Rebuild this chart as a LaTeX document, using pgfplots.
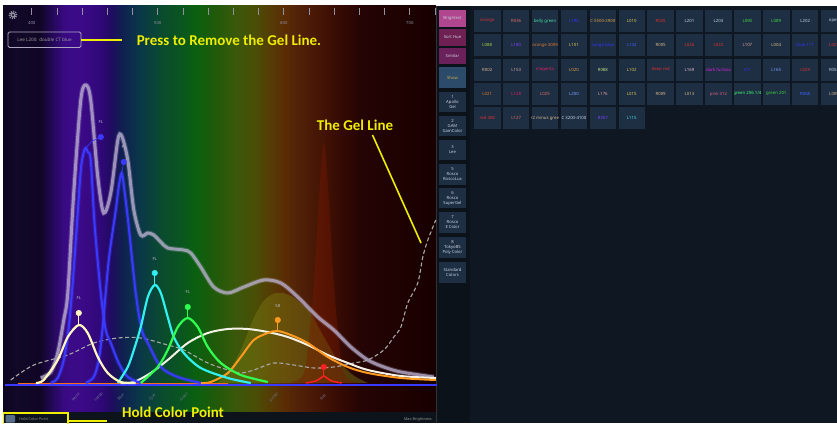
\documentclass[border=0pt]{standalone}
\usepackage{pgfplots}
\pgfplotsset{compat=1.18}
\usepackage{fontspec}
\setmainfont{Noto Sans}
\newfontfamily\annfont{Carlito}
\definecolor{s0}{HTML}{0C0620}\definecolor{s1}{HTML}{120828}\definecolor{s2}{HTML}{100525}
\definecolor{s3}{HTML}{200850}\definecolor{s4}{HTML}{3A0A85}\definecolor{s5}{HTML}{3C0A88}
\definecolor{s6}{HTML}{30087A}\definecolor{s7}{HTML}{220A62}\definecolor{s8}{HTML}{0F2050}
\definecolor{s9}{HTML}{0A3848}\definecolor{s10}{HTML}{0A4A30}\definecolor{s11}{HTML}{0A5520}
\definecolor{s12}{HTML}{0A6010}\definecolor{s13}{HTML}{205A0A}\definecolor{s14}{HTML}{3A580A}
\definecolor{s15}{HTML}{4A4E06}\definecolor{s16}{HTML}{553C05}\definecolor{s17}{HTML}{5A2C05}
\definecolor{s18}{HTML}{502008}\definecolor{s19}{HTML}{451505}\definecolor{s20}{HTML}{350A04}
\definecolor{s21}{HTML}{250404}\definecolor{s22}{HTML}{200202}\definecolor{s23}{HTML}{180000}
\pgfdeclarehorizontalshading{spectrum}{100bp}{color(0bp)=(s0); color(25bp)=(s0); color(26.39bp)=(s1);
color(29.27bp)=(s2); color(30.43bp)=(s3); color(32.16bp)=(s4); color(33.89bp)=(s5); color(36.2bp)=(s6);
color(37.36bp)=(s7); color(38.74bp)=(s8); color(40.82bp)=(s9); color(43.13bp)=(s10); color(45.44bp)=(s11);
color(47.17bp)=(s12); color(49.48bp)=(s13); color(51.79bp)=(s14); color(54.1bp)=(s15); color(55.83bp)=(s16);
color(57.56bp)=(s17); color(59.29bp)=(s18); color(61.6bp)=(s19); color(63.91bp)=(s20); color(66.22bp)=(s21);
color(69.69bp)=(s22); color(75bp)=(s23); color(100bp)=(s23)}
% UI colours
\definecolor{btn}{HTML}{1E2F44}\definecolor{rpanel}{HTML}{0F1822}\definecolor{lcol}{HTML}{0B121A}
\definecolor{botbar}{HTML}{0C131B}\definecolor{brightest}{HTML}{B0468E}\definecolor{sorthue}{HTML}{6E2052}
\definecolor{similar}{HTML}{6A2058}\definecolor{showb}{HTML}{2C4A6A}\definecolor{showt}{HTML}{C8B040}
\definecolor{btxt}{HTML}{C8D0DC}\definecolor{ann}{HTML}{EEEE00}
\definecolor{cRed}{HTML}{E03030}\definecolor{cSalmon}{HTML}{E07060}\definecolor{cTeal}{HTML}{40E0A0}
\definecolor{cBlue}{HTML}{3434FF}\definecolor{cBlueB}{HTML}{3C64FF}\definecolor{cAmber}{HTML}{E0A040}
\definecolor{cYellow}{HTML}{D8C850}\definecolor{cLight}{HTML}{C8D0E0}\definecolor{cGreen}{HTML}{40D840}
\definecolor{cYG}{HTML}{B0D040}\definecolor{cViolet}{HTML}{8040FF}\definecolor{cOrange}{HTML}{E07828}
\definecolor{cKhaki}{HTML}{D8B888}\definecolor{cRose}{HTML}{E0A0A0}\definecolor{cMag}{HTML}{E02060}
\definecolor{cYG2}{HTML}{C0E080}\definecolor{cFuch}{HTML}{E020E0}\definecolor{cLBlue}{HTML}{80A0FF}
\definecolor{cPink}{HTML}{E06080}\definecolor{cGreenB}{HTML}{40FF70}\definecolor{cCyan}{HTML}{40E0E0}
\definecolor{cPinkL}{HTML}{E0C0D0}
% curve colours
\definecolor{envc}{HTML}{BAB0D0}\definecolor{bluec}{HTML}{3A3AFF}\definecolor{cyanc}{HTML}{30F0F0}
\definecolor{greenc}{HTML}{30FF50}\definecolor{creamc}{HTML}{FFF6C0}\definecolor{whitec}{HTML}{F4F2E6}
\definecolor{orangec}{HTML}{FF9A20}\definecolor{redc}{HTML}{FF2020}\definecolor{gelc}{HTML}{A8A8A8}
\definecolor{olivec}{HTML}{7A7A12}\definecolor{spikec}{HTML}{7A1800}\definecolor{lblc}{HTML}{B8B8C8}
\definecolor{catc}{HTML}{7A7A98}\definecolor{tickc}{HTML}{9090A0}
\newcommand\cellfont{\fontsize{4.3}{5}\selectfont}
\newcommand\tinyfont{\fontsize{4.2}{5}\selectfont}
\newcommand\catfont{\fontsize{3.6}{4}\selectfont}
\newcommand\cell[4]{%
 \pgfmathsetmacro\cx{474+(#1-1)*28.9}%
 \pgfmathsetmacro\cy{413-(#2-1)*24.3}%
 \fill[btn] (\cx,\cy) rectangle ++(26.5,-22);
 \begin{scope}\clip (\cx,\cy) rectangle ++(26.5,-22);
 \node[text=#3,font=\cellfont,inner sep=0pt] at (\cx+13.25,\cy-11) {#4};\end{scope}}
\newcommand\lbtn[5]{% top py, height, fill, text colour, text
 \fill[#3] (439,423-#1) rectangle (466,423-#1-#2);
 \node[text=#4,font=\tinyfont,align=center,inner sep=0pt] at (452.5,423-#1-#2/2) {#5};}
\begin{document}
\begin{tikzpicture}[x=1pt,y=1pt]
\clip (0,0) rectangle (837,423);
\fill[white] (0,0) rectangle (837,423);
% left panel background
\shade[shading=spectrum] (3,11) rectangle (436,417);
\fill[botbar] (3,0) rectangle (436,11);
% right panel
\fill[rpanel] (436,0) rectangle (837,417);
\fill[lcol] (436,0) rectangle (470,417);
\fill[black!80] (435.5,0) rectangle (437,417);
\lbtn{10}{17}{brightest}{btxt}{Brightest}
\lbtn{29}{17}{sorthue}{btxt}{Sort Hue}
\lbtn{48}{16}{similar}{btxt}{Similar}
\lbtn{67}{21}{showb}{showt}{Show}
\lbtn{92}{20}{btn}{btxt}{1\\Apollo\\Gel}
\lbtn{116}{20}{btn}{btxt}{2\\GAM\\GamColor}
\lbtn{140}{20}{btn}{btxt}{3\\Lee}
\lbtn{164}{21}{btn}{btxt}{5\\Rosco\\RoscoLux}
\lbtn{188}{20}{btn}{btxt}{6\\Rosco\\SuperGel}
\lbtn{212}{21}{btn}{btxt}{7\\Rosco\\E Color}
\lbtn{237}{21}{btn}{btxt}{8\\TokyoBS\\Poly Color}
\lbtn{262}{21}{btn}{btxt}{Standard\\Colors}
% gel grid
\cell{1}{1}{cRed}{orange}\cell{2}{1}{cSalmon}{R036}\cell{3}{1}{cTeal}{belly green}\cell{4}{1}{cBlue}{L195}
\cell{5}{1}{cAmber}{C 5500-2900}\cell{6}{1}{cYellow}{L010}\cell{7}{1}{cRed}{R025}\cell{8}{1}{cLight}{L201}
\cell{9}{1}{cLight}{L203}\cell{10}{1}{cGreen}{L090}\cell{11}{1}{cGreen}{L089}\cell{12}{1}{cLight}{L202}
\cell{13}{1}{cLight}{open}
\cell{1}{2}{cYG}{L088}\cell{2}{2}{cViolet}{L180}\cell{3}{2}{cOrange}{orange 3009}\cell{4}{2}{cYellow}{L101}
\cell{5}{2}{cBlue}{congo blue}\cell{6}{2}{cBlueB}{L132}\cell{7}{2}{cKhaki}{R005}\cell{8}{2}{cRed}{L026}
\cell{9}{2}{cRed}{L022}\cell{10}{2}{cRose}{L107}\cell{11}{2}{cKhaki}{L004}\cell{12}{2}{cBlue}{blue 111}
\cell{13}{2}{cRed}{L027}
\cell{1}{3}{cKhaki}{R002}\cell{2}{3}{cRose}{L153}\cell{3}{3}{cMag}{magenta}\cell{4}{3}{cAmber}{L020}
\cell{5}{3}{cYG2}{R088}\cell{6}{3}{cYellow}{L102}\cell{7}{3}{cRed}{deep red}\cell{8}{3}{cPinkL}{L169}
\cell{9}{3}{cFuch}{dark fuchsia}\cell{10}{3}{cBlue}{L71}\cell{11}{3}{cLBlue}{L165}\cell{12}{3}{cRed}{L029}
\cell{13}{3}{cLight}{R054}
\cell{1}{4}{cOrange}{L021}\cell{2}{4}{cMag}{L128}\cell{3}{4}{cSalmon}{L025}\cell{4}{4}{cLBlue}{L200}
\cell{5}{4}{cRose}{L176}\cell{6}{4}{cYellow}{L015}\cell{7}{4}{cKhaki}{R009}\cell{8}{4}{cKhaki}{L013}
\cell{9}{4}{cPink}{pink 312}\cell{10}{4}{cGreenB}{green 206 1/4}\cell{11}{4}{cGreen}{green 201}\cell{12}{4}{cBlueB}{R068}
\cell{13}{4}{cKhaki}{L009}
\cell{1}{5}{cRed}{red 308}\cell{2}{5}{cSalmon}{L127}\cell{3}{5}{cKhaki}{1/2 minus green}\cell{4}{5}{cLight}{C 3200-4100}
\cell{5}{5}{cViolet}{R357}\cell{6}{5}{cCyan}{L115}
% spectrum axis
\begin{axis}[at={(3,11)}, anchor=south west, width=433pt, height=406pt, scale only axis,
  xmin=377.8, xmax=721.4, ymin=-29, ymax=377, hide axis, clip=true]
% translucent areas
\addplot[draw=none, fill=olivec, fill opacity=0.45, smooth] coordinates {
(547.6,0)(559.5,18)(567.5,38)(575.4,63)(583.3,81)(591.3,89)(599.2,90)(607.1,86)(615.1,78)(621.4,70)(631,48)(642.9,23)(654.8,8)(666.7,0)} \closedcycle;
\addplot[draw=none, fill=spikec, fill opacity=0.4, smooth] coordinates {
(605.6,0)(613.5,5)(617.5,18)(621.4,63)(624.6,113)(627.8,183)(630.2,228)(631.7,241)(633.3,228)(635.7,183)(638.9,113)(642.1,63)(646.0,18)(650,5)(657.9,0)} \closedcycle;
% ruler
\addplot[only marks, mark=|, mark size=3.5pt, color=tickc, mark options={line width=0.8pt}] coordinates {
(400,371.5)(420,371.5)(440,371.5)(460,371.5)(480,371.5)(500,371.5)(520,371.5)(540,371.5)(560,371.5)
(580,371.5)(600,371.5)(620,371.5)(640,371.5)(660,371.5)(680,371.5)(700,371.5)(720,371.5)};
\node[font=\tinyfont, text=tickc] at (axis cs:400,360) {400};
\node[font=\tinyfont, text=tickc] at (axis cs:500,360) {500};
\node[font=\tinyfont, text=tickc] at (axis cs:600,360) {600};
\node[font=\tinyfont, text=tickc] at (axis cs:700,360) {700};
% envelope
\addplot[envc, line width=5pt, opacity=0.25, smooth] coordinates {
(407.1,5)(415.1,11)(420.6,30)(425.4,63)(428.6,90)(433.3,190)(438.9,283)(442.9,298)(446.8,283)(452.4,206)(457.1,170)(462.7,190)(468.3,243)(471.4,247)(476.2,223)(481.0,173)(486.5,148)(492.1,150)(496.8,148)(502.4,141)(507.9,135)(520.6,133)(526.2,130)(534.1,116)(544.4,96)(555.6,90)(568.3,96)(584.1,103)(597.6,100)(611.1,86)(627.0,66)(639.7,53)(653.2,36)(666.7,23)(679.4,16)(692.9,11)(719.0,6)};
\addplot[envc, line width=3pt, opacity=0.75, smooth] coordinates {
(407.1,5)(415.1,11)(420.6,30)(425.4,63)(428.6,90)(433.3,190)(438.9,283)(442.9,298)(446.8,283)(452.4,206)(457.1,170)(462.7,190)(468.3,243)(471.4,247)(476.2,223)(481.0,173)(486.5,148)(492.1,150)(496.8,148)(502.4,141)(507.9,135)(520.6,133)(526.2,130)(534.1,116)(544.4,96)(555.6,90)(568.3,96)(584.1,103)(597.6,100)(611.1,86)(627.0,66)(639.7,53)(653.2,36)(666.7,23)(679.4,16)(692.9,11)(719.0,6)};
% gel line
\addplot[gelc, line width=1.1pt, dash pattern=on 4pt off 2.5pt, smooth] coordinates {
(383.3,3)(401.6,18)(428.6,28)(449.2,40)(468.3,45)(486.5,45)(507.9,38)(520.6,33)(539.7,20)(555.6,13)(565.9,10)(576.2,13)(592.1,20)(607.9,18)(623.8,15)(639.7,16)(655.6,20)(666.7,23)(679.4,33)(687.3,46)(692.9,56)(698.4,80)(706.3,100)(710.3,126)(714.3,143)(720.6,163)};
% baseline
\addplot[bluec, line width=2.2pt] coordinates {(379,-2)(721.4,-2)};
\addplot[orangec!70!red, line width=0.9pt] coordinates {(389,0)(555.6,0)};
% broad white
\addplot[whitec, line width=2pt, smooth] coordinates {
(470.6,0)(481.0,1)(494.4,10)(507.9,23)(523.8,40)(539.7,50)(555.6,54)(571.4,54)(587.3,51)(603.2,46)(619.0,38)(634.9,28)(650.8,20)(666.7,13)(692.9,7)(720.6,5)};
% orange (amber)
\addplot[orangec, line width=2pt, smooth] coordinates {
(534.1,0)(542.1,1)(555.6,10)(565.9,26)(576.2,43)(587.3,50)(595.2,52)(605.6,48)(619.0,40)(634.9,26)(650.8,16)(666.7,10)(692.9,5)(720.6,3)};
% red
\addplot[redc, line width=1.5pt, smooth] coordinates {(617.5,0)(625.4,2)(629.4,5)(631.7,7)(634.1,5)(638.1,2)(646,0)};
% blue 1 (indigo)
\addplot[bluec, line width=4pt, opacity=0.3, smooth] coordinates {
(415.1,0)(420.6,5)(425.4,23)(429.4,56)(432.5,100)(435.7,156)(438.9,213)(441.3,231)(442.9,235)(444.4,231)(446.8,223)(450,156)(454.8,90)(458.7,53)(462.7,40)(469.0,20)(476.2,6)(486.5,0)};
\addplot[bluec, line width=2pt, smooth] coordinates {
(415.1,0)(420.6,5)(425.4,23)(429.4,56)(432.5,100)(435.7,156)(438.9,213)(441.3,231)(442.9,235)(444.4,231)(446.8,223)(450,156)(454.8,90)(458.7,53)(462.7,40)(469.0,20)(476.2,6)(486.5,0)};
% blue 2
\addplot[bluec, line width=4pt, opacity=0.3, smooth] coordinates {
(442.9,0)(449.2,6)(453.2,23)(456.3,56)(461.1,123)(466.7,173)(469.0,196)(471.4,210)(473.8,190)(477.0,156)(482.5,90)(487.3,53)(492.1,40)(502.4,16)(515.9,6)(534.1,0)};
\addplot[bluec, line width=2pt, smooth] coordinates {
(442.9,0)(449.2,6)(453.2,23)(456.3,56)(461.1,123)(466.7,173)(469.0,196)(471.4,210)(473.8,190)(477.0,156)(482.5,90)(487.3,53)(492.1,40)(502.4,16)(515.9,6)(534.1,0)};
% cyan
\addplot[cyanc, line width=2.2pt, smooth] coordinates {
(468.3,0)(476.2,16)(481.0,33)(486.5,56)(492.1,86)(497.6,98)(502.4,90)(507.9,66)(512.7,46)(520.6,30)(534.1,15)(555.6,5)(573.8,0)};
% green
\addplot[greenc, line width=2.2pt, smooth] coordinates {
(486.5,0)(500,16)(507.9,33)(515.9,56)(523.8,65)(531.7,56)(539.7,36)(550,20)(565.9,8)(587.3,1)};
% white (small)
\addplot[creamc, line width=2.2pt, smooth] coordinates {
(403.2,0)(409.5,3)(420.6,23)(428.6,46)(437.3,58)(444.4,50)(452.4,26)(460.3,10)(470.6,1)(482.5,0)};
% stems and colour points
\addplot[bluec, line width=0.6pt] coordinates {(442.9,235)(448,242)(454.8,246)};
\addplot[bluec, line width=0.6pt] coordinates {(471.4,210)(473.0,221)};
\addplot[cyanc, line width=0.6pt] coordinates {(497.6,98)(497.6,110)};
\addplot[greenc, line width=0.6pt] coordinates {(523.8,65)(523.8,76)};
\addplot[creamc, line width=0.6pt] coordinates {(437.3,58)(437.3,70)};
\addplot[orangec, line width=0.6pt] coordinates {(595.2,52)(595.2,63)};
\addplot[redc, line width=0.6pt] coordinates {(631.7,7)(631.7,16)};
\addplot[only marks, mark=*, mark size=2.8pt, bluec] coordinates {(454.8,246)(473.0,221)};
\addplot[only marks, mark=*, mark size=2.8pt, cyanc] coordinates {(497.6,110)};
\addplot[only marks, mark=*, mark size=2.8pt, greenc] coordinates {(523.8,76)};
\addplot[only marks, mark=*, mark size=2.8pt, creamc] coordinates {(437.3,70)};
\addplot[only marks, mark=*, mark size=2.8pt, orangec] coordinates {(595.2,63)};
\addplot[only marks, mark=*, mark size=2.8pt, redc] coordinates {(631.7,16)};
% point labels
\node[font=\tinyfont, text=lblc] at (axis cs:454.8,261) {FL};
\node[font=\tinyfont, text=lblc] at (axis cs:473.0,236) {FL};
\node[font=\tinyfont, text=lblc] at (axis cs:497.6,124) {FL};
\node[font=\tinyfont, text=lblc] at (axis cs:523.8,91) {FL};
\node[font=\tinyfont, text=lblc] at (axis cs:437.3,85) {FL};
\node[font=\tinyfont, text=lblc] at (axis cs:595.2,77) {58};
% category labels
\node[font=\catfont, text=catc, rotate=50, inner sep=0pt] at (axis cs:434.9,-14) {White};
\node[font=\catfont, text=catc, rotate=50, inner sep=0pt] at (axis cs:453.2,-14) {Indigo};
\node[font=\catfont, text=catc, rotate=50, inner sep=0pt] at (axis cs:470.6,-14) {Blue};
\node[font=\catfont, text=catc, rotate=50, inner sep=0pt] at (axis cs:496.0,-14) {Cyan};
\node[font=\catfont, text=catc, rotate=50, inner sep=0pt] at (axis cs:520.6,-14) {Green};
\node[font=\catfont, text=catc, rotate=50, inner sep=0pt] at (axis cs:592.1,-14) {Amber};
\node[font=\catfont, text=catc, rotate=50, inner sep=0pt] at (axis cs:631.0,-14) {Red};
\end{axis}
% gear icon
\draw[tickc, line width=1.6pt, dash pattern=on 1.1pt off 1.1pt] (13,408) circle (3.6);
\fill[tickc] (13,408) circle (2.6); \fill[s1] (13,408) circle (1.1);
% gel box
\draw[envc!80!gray, line width=0.9pt, rounded corners=1.5pt] (8,391) rectangle (81,375.5);
\node[font=\fontsize{4.6}{5}\selectfont, text=gray!80] at (44.5,383.3) {Lee L200: double CT blue};
% bottom bar
\fill[showb!80!white, rounded corners=1pt] (5.5,8) rectangle (15,0.5);
\node[font=\fontsize{3.8}{4}\selectfont, text=gray!90, anchor=west, inner sep=0pt] at (19,4) {Hold Color Point};
\node[font=\fontsize{3.8}{4}\selectfont, text=gray!80, anchor=east, inner sep=0pt] at (432,3) {Max Brightness};
% annotations
\draw[ann, line width=1.6pt] (3.5,-2) rectangle (68,10.3);
\draw[ann, line width=1.8pt] (68,2) -- (107,2);
\node[font=\annfont\bfseries\fontsize{15}{16}\selectfont, text=ann, inner sep=0pt] at (173,11) {Hold Color Point};
\draw[ann, line width=1.8pt] (81,383.3) -- (122,383.3);
\node[font=\annfont\bfseries\fontsize{15}{16}\selectfont, text=ann, inner sep=0pt] at (229,383) {Press to Remove the Gel Line.};
\node[font=\annfont\bfseries\fontsize{15}{16}\selectfont, text=ann, inner sep=0pt] at (355,297.5) {The Gel Line};
\draw[ann, line width=1.6pt] (372.5,288) -- (421,180);
\end{tikzpicture}
\end{document}
